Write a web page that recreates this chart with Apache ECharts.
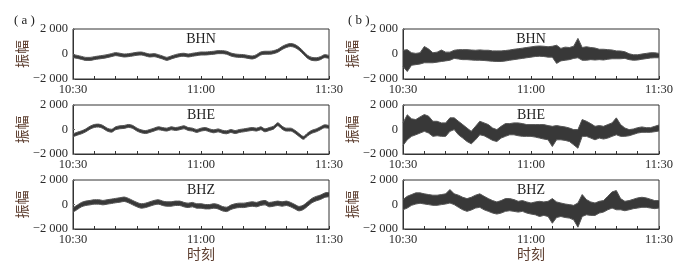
<!DOCTYPE html>
<html>
<head>
<meta charset="utf-8">
<script src="https://cdn.jsdelivr.net/npm/echarts@6/dist/echarts.min.js"></script>
<style>
  html, body { margin: 0; padding: 0; background: #fff; }
  #chart { width: 690px; height: 275px; }
</style>
</head>
<body>
<div id="chart"></div>
<script>
// time axis, one category per minute 10:30 .. 11:30
let mins = [];
for (let i = 0; i <= 60; i++) {
  let t = 30 + i;
  mins.push((10 + Math.floor(t / 60)) + ':' + String(t % 60).padStart(2, '0'));
}
let yTicks = [-2000, 0, 2000];

// (a) centre of trace, counts
let aBhnMid = [-170,-230,-310,-390,-390,-330,-280,-230,-170,-90,
  -10,-60,-120,-90,-40,20,40,-40,-120,-90,
  -170,-280,-390,-280,-170,-90,-60,-120,-60,-10,
  40,40,70,100,150,150,100,-40,-120,-150,
  -170,-230,-280,-170,40,100,100,150,260,480,
  640,720,640,420,100,-230,-390,-420,-330,-170,
  -230];
let aBheMid = [-480,-340,-230,-70,150,290,320,210,-10,-100,
  100,180,210,290,210,-10,-150,-210,-120,-10,
  100,40,-10,100,40,100,180,40,-10,-120,
  -10,40,-70,-150,-70,-180,-230,-120,-210,-120,
  -70,-10,40,-10,100,-70,40,150,430,150,
  -10,-10,-180,-450,-680,-400,-180,-70,100,260,
  210];
let aBhzMid = [-450,-230,-10,100,150,210,210,150,210,260,
  320,370,430,320,150,-10,-120,-70,40,150,
  210,100,40,40,100,100,-10,-70,-10,-120,
  -120,-180,-180,-120,-180,-340,-400,-230,-120,-70,
  -70,-10,40,-10,100,150,-10,40,100,40,
  100,-10,-180,-340,-230,40,320,480,590,760,
  810];
// half thickness of the (a) traces
let aAmp = [120, 120, 180];

// (b) upper / lower envelope, counts
let bBhnHi = [300,350,100,50,100,600,400,100,150,320,
  150,150,300,350,350,350,320,300,330,300,
  300,250,250,250,280,320,380,420,470,520,
  570,620,640,620,580,620,700,450,550,520,
  620,1250,520,580,520,480,380,380,350,320,
  250,240,180,20,-60,-60,0,50,100,100,
  50];
let bBhnLo = [-1000,-1400,-900,-850,-800,-700,-700,-700,-650,-600,
  -550,-500,-350,-400,-450,-450,-480,-500,-500,-520,
  -550,-580,-600,-600,-560,-500,-450,-400,-350,-300,
  -250,-200,-180,-200,-250,-250,-750,-550,-500,-450,
  -350,-300,-500,-500,-450,-480,-450,-480,-420,-380,
  -380,-380,-350,-450,-500,-480,-420,-370,-320,-300,
  -300];
let bBheHi = [540,1200,870,810,1030,1220,1090,670,670,540,
  540,950,950,670,400,120,-150,260,670,540,
  400,120,-10,260,480,480,540,540,480,400,
  400,400,400,400,320,260,320,260,210,120,
  -10,-10,810,670,480,260,320,260,400,540,
  950,400,120,-10,40,150,210,150,150,260,
  370];
let bBheLo = [-1300,-840,-560,-430,-290,-150,-290,-560,-510,-560,
  -560,-150,-10,-430,-700,-980,-1170,-840,-430,-510,
  -700,-890,-980,-700,-560,-430,-430,-510,-560,-560,
  -560,-620,-700,-780,-840,-1390,-840,-840,-890,-980,
  -1250,-1530,-560,-560,-700,-840,-700,-780,-700,-560,
  -430,-560,-560,-510,-400,-290,-230,-230,-230,-180,
  -120];
let bBhzHi = [400,670,810,950,950,870,810,760,760,810,
  870,1220,870,760,590,480,590,760,870,670,
  480,320,210,320,480,480,400,260,320,210,
  120,210,260,210,260,480,210,120,40,-10,
  -70,120,810,400,210,120,260,320,670,1030,
  1140,480,260,320,430,540,590,540,430,320,
  320];
let bBhzLo = [-430,-290,-70,40,100,40,-10,-70,-70,-10,
  40,120,-10,-230,-430,-560,-450,-290,-230,-430,
  -560,-700,-780,-700,-560,-510,-560,-620,-560,-700,
  -780,-840,-980,-890,-980,-1530,-1060,-980,-1060,-1110,
  -1250,-1850,-980,-840,-890,-890,-700,-620,-430,-290,
  -430,-430,-510,-430,-340,-290,-230,-230,-290,-340,
  -290];

let names = ['BHN', 'BHE', 'BHZ'];

let panels = [];
[aBhnMid, aBheMid, aBhzMid].forEach((mid, r) => {
  panels.push({
    col: 0, row: r, smooth: 0.3,
    lo: mid.map(v => v - aAmp[r]),
    hi: mid.map(v => v + aAmp[r])
  });
});
[[bBhnHi, bBhnLo], [bBheHi, bBheLo], [bBhzHi, bBhzLo]].forEach((d, r) => {
  panels.push({ col: 1, row: r, smooth: false, lo: d[1], hi: d[0] });
});

const colLeft = [73, 403];
const rowTop = [29, 105, 180];
const W = 256, H = [50, 49, 49];
const serif = 'Liberation Serif';
const cjk = 'Noto Sans CJK SC';
const ink = '#2a2a2a';
const brown = '#5c3d2e';
const trace = '#383838';
const edge = '#555';

let grid = [], xAxis = [], yAxis = [], series = [], title = [];

panels.forEach((p, i) => {
  grid.push({
    left: colLeft[p.col], top: rowTop[p.row], width: W, height: H[p.row],
    show: true, borderColor: '#333', borderWidth: 1, backgroundColor: 'transparent'
  });
  let last = p.row === 2;
  xAxis.push({
    gridIndex: i, type: 'category', data: mins, boundaryGap: false,
    axisLine: { onZero: false, lineStyle: { color: '#333', width: 1 } },
    axisTick: { inside: true, length: 3, interval: (k) => k % 5 === 0, lineStyle: { color: '#333' } },
    axisLabel: {
      interval: (k) => k % 30 === 0, margin: 4,
      fontFamily: serif, fontSize: 12.5, color: ink
    },
    splitLine: { show: false },
    name: last ? '时刻' : '', nameLocation: 'middle', nameGap: 18,
    nameTextStyle: { fontFamily: cjk, fontSize: 14, color: brown }
  });
  yAxis.push({
    gridIndex: i, type: 'value', min: yTicks[0], max: yTicks[2], interval: 2000,
    axisLine: { show: true, onZero: false, lineStyle: { color: '#333', width: 1 } },
    axisTick: { show: true, inside: true, length: 2, lineStyle: { color: '#666' } },
    axisLabel: {
      margin: 5, fontFamily: serif, fontSize: 12.5, color: ink,
      formatter: (v) => (v < 0 ? '\u2212' : '') + (Math.abs(v) >= 1000 ? Math.floor(Math.abs(v) / 1000) + ' ' + String(Math.abs(v) % 1000).padStart(3, '0') : String(Math.abs(v)))
    },
    splitLine: { show: false },
    name: '振幅', nameLocation: 'middle', nameGap: 37, nameRotate: 90,
    nameTextStyle: { fontFamily: cjk, fontSize: 14, color: brown }
  });
  title.push({
    text: names[p.row], left: colLeft[p.col] + W / 2, top: rowTop[p.row] + 3,
    textAlign: 'center', padding: 0,
    textStyle: { fontFamily: serif, fontSize: 14, fontWeight: 'normal', color: '#222' }
  });
  series.push({
    type: 'line', xAxisIndex: i, yAxisIndex: i, data: p.lo,
    stack: 'p' + i, stackStrategy: 'all', symbol: 'none', smooth: p.smooth,
    lineStyle: { width: 1, color: edge }, z: 3
  });
  series.push({
    type: 'line', xAxisIndex: i, yAxisIndex: i,
    data: p.hi.map((v, k) => v - p.lo[k]),
    stack: 'p' + i, stackStrategy: 'all', symbol: 'none', smooth: p.smooth,
    lineStyle: { width: 1, color: edge },
    areaStyle: { color: trace, opacity: 1 }, z: 3
  });
});

title.push({ text: '( a )', left: 14, top: 14, padding: 0,
  textStyle: { fontFamily: serif, fontSize: 13, fontWeight: 'normal', color: '#222' } });
title.push({ text: '( b )', left: 348, top: 14, padding: 0,
  textStyle: { fontFamily: serif, fontSize: 13, fontWeight: 'normal', color: '#222' } });

let chart = echarts.init(document.getElementById('chart'));
chart.setOption({
  animation: false,
  backgroundColor: '#fff',
  title: title,
  grid: grid,
  xAxis: xAxis,
  yAxis: yAxis,
  series: series
});
</script>
</body>
</html>
